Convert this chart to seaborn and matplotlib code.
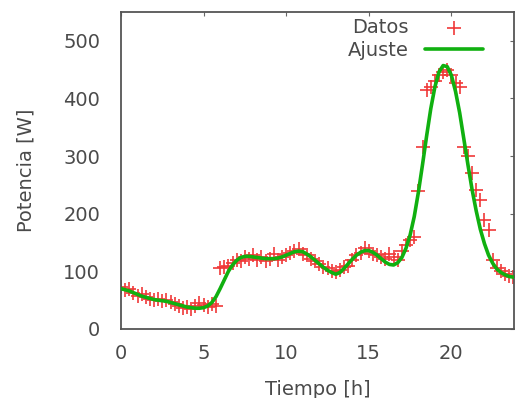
import numpy as np
import pandas as pd
import matplotlib
matplotlib.use("Agg")
import matplotlib.pyplot as plt
import seaborn as sns

# Data points (hours, watts)
hours = [i * 0.25 for i in range(96)]
datos = [72, 68, 70, 62, 58, 60, 55, 52, 50, 52, 48, 50,
         46, 44, 40, 36, 38, 34, 40, 45, 42, 38, 44, 40,
         105, 108, 110, 115, 120, 118, 125, 122, 128, 120, 125, 118,
         122, 130, 120, 125, 128, 132, 135, 138, 130, 128, 122, 118,
         112, 108, 105, 100, 98, 102, 108, 110, 120, 128, 132, 140,
         135, 130, 128, 125, 122, 130, 125, 120, 135, 145, 155, 160,
         240, 316, 415, 420, 430, 440, 445, 450, 440, 427, 420, 316,
         300, 270, 241, 224, 189, 172, 120, 106, 100, 95, 92, 90]

ajuste = [70, 68, 66, 63, 60, 57, 55, 53, 51, 50, 49, 48,
          46, 44, 42, 40, 38, 37, 36, 36, 37, 40, 46, 56,
          70, 85, 100, 111, 119, 124, 126, 126, 125, 124, 123, 122,
          122, 122, 123, 125, 128, 131, 134, 135, 134, 130, 125, 119,
          113, 107, 102, 98, 95, 98, 105, 113, 121, 128, 133, 136,
          136, 133, 128, 122, 116, 112, 111, 115, 124, 140, 163, 195,
          237, 285, 335, 382, 420, 446, 457, 455, 440, 412, 375, 330,
          285, 242, 205, 173, 148, 128, 114, 104, 98, 94, 91, 90]

xticks = [0, 5, 10, 15, 20]
yticks = [0, 100, 200, 300, 400, 500]

df = pd.DataFrame({"Tiempo": hours, "Datos": datos, "Ajuste": ajuste})

sns.set_theme(style="white")
plt.rcParams['font.family'] = ['DejaVu Sans']

fig = plt.figure(figsize=(5.16, 3.98), dpi=100)
ax = fig.add_axes([0.2345, 0.1734, 0.762, 0.7966])

txt = "#4a4a4a"
sns.scatterplot(data=df, x="Tiempo", y="Datos", marker="+", s=110,
                color="#f03838", linewidth=1.2, ax=ax, label="Datos", zorder=2)
sns.lineplot(data=df, x="Tiempo", y="Ajuste", color="#10b010", linewidth=2.6,
             ax=ax, label="Ajuste", zorder=3)

ax.set_xlim(0, 23.8)
ax.set_ylim(0, 550)
ax.set_xticks(xticks)
ax.set_yticks(yticks)
ax.tick_params(direction="in", length=3, width=0.8, color="#666666",
               labelsize=14, labelcolor=txt, top=True, right=True)
ax.tick_params(axis="y", pad=15)
ax.tick_params(axis="x", pad=11)
ax.set_xlabel("Tiempo [h]", fontsize=14, color=txt, labelpad=12)
ax.set_ylabel("Potencia [W]", fontsize=14, color=txt, labelpad=20)
for s in ax.spines.values():
    s.set_color("#555555")
    s.set_linewidth(1.3)

leg = ax.legend(loc="upper right", bbox_to_anchor=(0.965, 1.035), frameon=False,
                markerfirst=False, fontsize=14, handlelength=3.0,
                labelspacing=0.2, handletextpad=0.8)
for t in leg.get_texts():
    t.set_color(txt)
    t.set_ha("right")

fig.savefig("out.png", dpi=100)
